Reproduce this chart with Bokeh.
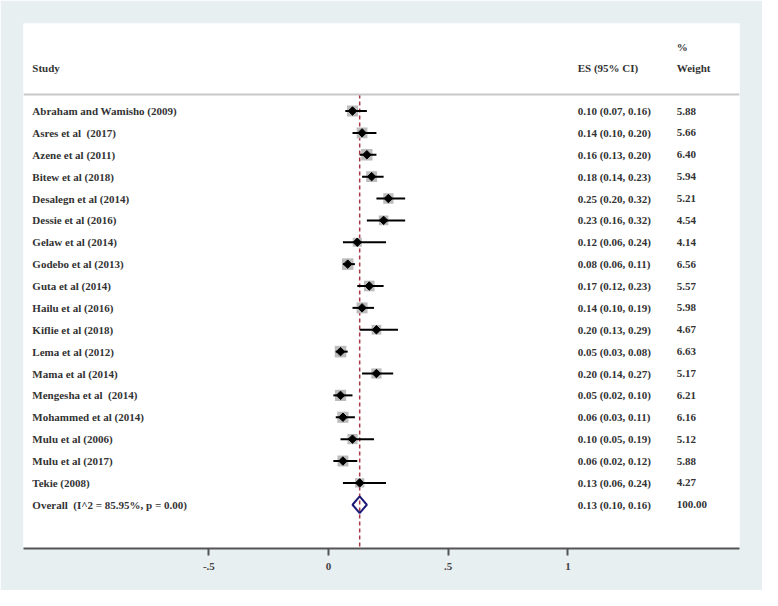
from bokeh.plotting import figure
from bokeh.models import Range1d, LinearAxis, FixedTicker, Span, ColumnDataSource
from bokeh.core.properties import value
from bokeh.embed import file_html
from bokeh.resources import INLINE
import numpy as np

studies = ["Abraham and Wamisho (2009)", "Asres et al\u00a0 (2017)", "Azene et al (2011)",
           "Bitew et al (2018)", "Desalegn et al (2014)", "Dessie et al (2016)",
           "Gelaw et al (2014)", "Godebo et al (2013)", "Guta et al (2014)",
           "Hailu et al (2016)", "Kiflie et al (2018)", "Lema et al (2012)",
           "Mama et al (2014)", "Mengesha et al\u00a0 (2014)", "Mohammed et al (2014)",
           "Mulu et al (2006)", "Mulu et al (2017)", "Tekie (2008)"]
es = [0.10, 0.14, 0.16, 0.18, 0.25, 0.23, 0.12, 0.08, 0.17, 0.14, 0.20, 0.05,
      0.20, 0.05, 0.06, 0.10, 0.06, 0.13]
lo = [0.07, 0.10, 0.13, 0.14, 0.20, 0.16, 0.06, 0.06, 0.12, 0.10, 0.13, 0.03,
      0.14, 0.02, 0.03, 0.05, 0.02, 0.06]
hi = [0.16, 0.20, 0.20, 0.23, 0.32, 0.32, 0.24, 0.11, 0.23, 0.19, 0.29, 0.08,
      0.27, 0.10, 0.11, 0.19, 0.12, 0.24]
weights = [5.88, 5.66, 6.40, 5.94, 5.21, 4.54, 4.14, 6.56, 5.57, 5.98, 4.67, 6.63,
           5.17, 6.21, 6.16, 5.12, 5.88, 4.27]
overall_label = "Overall\u00a0 (I^2 = 85.95%, p = 0.00)"
overall_es, overall_lo, overall_hi, overall_w = 0.13, 0.10, 0.16, 100.00
tick_values = [-0.5, 0, 0.5, 1]
tick_labels = ["-.5", "0", ".5", "1"]

FONT = value("Liberation Serif")
TXT = "#333333"
BG = "#e8eff1"

n = len(studies)
rows = list(range(n))
ov_row = n

p = figure(width=762, height=590, output_backend="svg", toolbar_location=None,
           x_range=Range1d(-1.2746, 1.717), y_range=Range1d(20.0, -4.0),
           x_axis_location=None, y_axis_location=None,
           min_border_left=23, min_border_right=23, min_border_top=23, min_border_bottom=42)
p.background_fill_color = "white"
p.border_fill_color = BG
p.outline_line_color = None
p.xgrid.visible = False
p.ygrid.visible = False

ax = LinearAxis(ticker=FixedTicker(ticks=tick_values),
                major_label_overrides={v: l for v, l in zip(tick_values, tick_labels)})
ax.minor_tick_line_color = None
ax.major_tick_in = 0
ax.major_tick_out = 7
ax.major_tick_line_width = 2
ax.major_tick_line_color = "#555555"
ax.axis_line_width = 2
ax.axis_line_color = "#555555"
ax.major_label_text_font = "Liberation Serif"
ax.major_label_text_font_size = "11px"
ax.major_label_text_font_style = "bold"
ax.major_label_text_color = "#444444"
ax.major_label_standoff = 7
p.add_layout(ax, "below")

# header separator
p.add_layout(Span(location=-0.75, dimension="width", line_color="#c8c8c8", line_width=2))

# overall effect dashed line
p.segment(x0=[overall_es], y0=[-0.75], x1=[overall_es], y1=[20.0],
          line_color="#a83848", line_width=1.5, line_dash="4 3")

src = ColumnDataSource(dict(y=rows, es=es, lo=lo, hi=hi,
                            box=[4.5 * np.sqrt(w) for w in weights]))
p.scatter(x="es", y="y", size="box", marker="square", source=src,
          fill_color="#bcbcbc", line_color=None)
p.segment(x0="lo", y0="y", x1="hi", y1="y", source=src, line_color="black", line_width=2)
p.scatter(x="es", y="y", size=6, marker="square", angle=np.pi / 4, source=src,
          fill_color="black", line_color="black")

# overall diamond
p.patch(x=[overall_lo, overall_es, overall_hi, overall_es, overall_lo],
        y=[ov_row, ov_row - 0.38, ov_row, ov_row + 0.38, ov_row],
        fill_color=None, line_color="#1c1c78", line_width=2)

# text columns
labels = studies + [overall_label]
es_txt = [f"{e:.2f} ({l:.2f}, {h:.2f})" for e, l, h in zip(es, lo, hi)] + \
         [f"{overall_es:.2f} ({overall_lo:.2f}, {overall_hi:.2f})"]
w_txt = [f"{w:.2f}" for w in weights] + [f"{overall_w:.2f}"]
yy = rows + [ov_row]
common = dict(text_font=FONT, text_font_size="11px", text_font_style="bold",
              text_color=TXT, text_baseline="middle", text_align="left")
p.text(x=[-1.2377] * len(yy), y=yy, text=labels, **common)
p.text(x=[1.041] * len(yy), y=yy, text=es_txt, **common)
p.text(x=[1.455] * len(yy), y=yy, text=w_txt, **common)

# headers
p.text(x=[-1.2377, 1.041, 1.455, 1.455], y=[-1.95, -1.95, -1.95, -2.93],
       text=["Study", "ES (95% CI)", "Weight", "%"], **common)

open("out.html", "w").write(file_html(p, INLINE))
